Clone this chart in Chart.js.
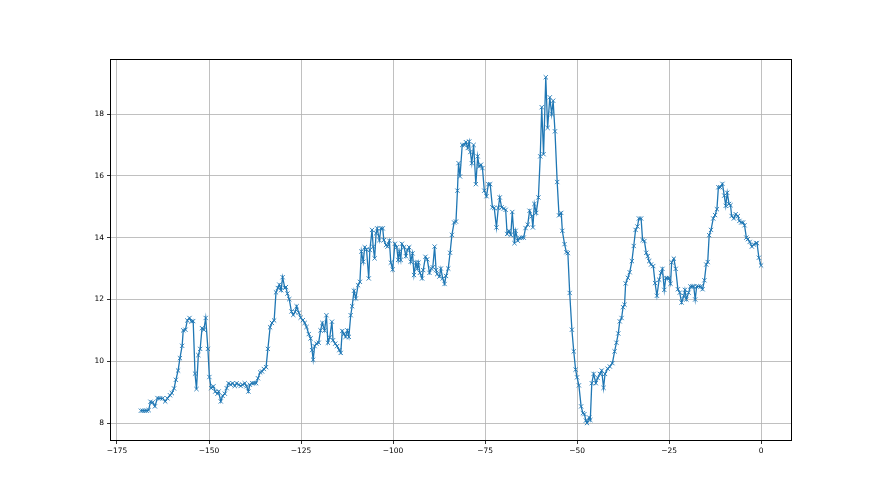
<!DOCTYPE html>
<html>
<head>
<meta charset="utf-8">
<script src="https://cdn.jsdelivr.net/npm/chart.js@4"></script>
<style>
html,body{margin:0;padding:0;background:#fff;}
canvas{display:block;}
</style>
</head>
<body>
<canvas id="c" width="880" height="495"></canvas>
<script>
const xValues = [
-168.5,-168.0,-167.4,-166.9,-166.4,-165.9,-165.3,-164.7,-164.0,-163.3,-162.6,-161.9,-161.3,-160.6,-160.1,-159.5,-159.0,-158.4,-157.9,-157.3,
-157.0,-156.4,-155.9,-155.3,-154.8,-154.3,-153.8,-153.4,-152.9,-152.4,-151.9,-151.4,-150.9,-150.3,-149.9,-149.4,-148.8,-148.3,-147.7,-147.4,
-146.8,-146.3,-145.7,-145.2,-144.7,-144.1,-143.6,-143.0,-142.5,-141.9,-141.4,-140.9,-140.3,-139.8,-139.3,-138.9,-138.3,-137.8,-137.2,-136.7,
-136.1,-135.6,-135.1,-134.5,-134.0,-133.4,-132.9,-132.3,-131.8,-131.3,-130.9,-130.4,-130.0,-129.4,-129.1,-128.7,-128.2,-127.6,-127.1,-126.6,
-126.2,-125.6,-125.1,-124.5,-124.0,-123.5,-122.9,-122.4,-122.0,-121.7,-121.3,-120.8,-120.2,-119.7,-119.2,-118.6,-118.1,-117.7,-117.2,-116.6,
-116.3,-115.7,-115.2,-114.6,-114.2,-113.8,-113.3,-112.9,-112.4,-112.0,-111.5,-111.1,-110.6,-110.1,-109.5,-109.0,-108.6,-108.1,-107.7,-107.2,
-106.6,-106.3,-105.7,-105.4,-105.0,-104.6,-104.3,-103.7,-103.3,-102.8,-102.5,-101.9,-101.5,-101.0,-100.6,-100.1,-99.5,-99.0,-98.6,-98.3,
-97.9,-97.6,-97.0,-96.5,-96.1,-95.6,-95.2,-94.7,-94.3,-93.8,-93.4,-93.1,-92.7,-92.1,-91.8,-91.2,-90.7,-90.1,-89.6,-89.2,
-88.7,-88.3,-88.0,-87.4,-87.0,-86.5,-86.0,-85.6,-85.0,-84.5,-84.0,-83.4,-82.9,-82.5,-82.2,-81.8,-81.2,-80.6,-80.2,-79.7,
-79.3,-79.0,-78.6,-78.1,-77.5,-77.0,-76.6,-76.1,-75.7,-75.2,-74.6,-74.1,-73.6,-73.0,-72.5,-71.9,-71.4,-71.0,-70.5,-69.9,
-69.4,-69.0,-68.5,-68.0,-67.6,-67.0,-66.7,-66.1,-65.6,-65.0,-64.5,-64.0,-63.4,-62.9,-62.3,-62.0,-61.6,-61.1,-60.5,-60.0,
-59.6,-59.1,-58.5,-58.0,-57.4,-56.9,-56.5,-56.0,-55.4,-54.9,-54.3,-54.0,-53.4,-52.9,-52.5,-52.0,-51.4,-50.9,-50.4,-50.0,
-49.5,-48.9,-48.4,-48.0,-47.6,-47.3,-46.7,-46.4,-46.0,-45.5,-44.9,-44.4,-43.8,-43.3,-42.8,-42.4,-41.7,-41.1,-40.4,-39.8,
-39.3,-38.8,-38.4,-37.9,-37.5,-37.1,-36.8,-36.2,-35.7,-35.1,-34.6,-34.1,-33.6,-33.2,-32.6,-32.2,-31.7,-31.2,-30.8,-30.4,
-29.9,-29.3,-28.8,-28.3,-27.7,-27.2,-26.8,-26.3,-25.9,-25.5,-25.0,-24.6,-24.3,-23.7,-23.2,-22.6,-22.1,-21.6,-21.0,-20.7,
-20.3,-19.7,-19.2,-18.7,-18.3,-17.9,-17.5,-17.0,-16.4,-15.9,-15.4,-14.9,-14.5,-14.1,-13.6,-13.0,-12.5,-12.0,-11.6,-11.1,
-10.5,-10.0,-9.6,-9.2,-8.7,-8.3,-8.0,-7.4,-6.9,-6.3,-5.9,-5.4,-4.9,-4.5,-4.0,-3.6,-3.1,-2.5,-2.0,-1.4,
-1.1,-0.6,0.0
];
const yValues = [
8.40,8.40,8.40,8.40,8.42,8.69,8.67,8.54,8.81,8.80,8.80,8.70,8.80,8.90,8.97,9.12,9.40,9.70,10.10,10.50,
11.00,11.02,11.32,11.40,11.29,11.30,9.60,9.10,10.20,10.40,11.07,11.02,11.40,10.40,9.49,9.13,9.19,9.02,8.95,9.02,
8.70,8.88,8.95,9.13,9.29,9.24,9.29,9.20,9.29,9.24,9.20,9.24,9.29,9.19,9.02,9.24,9.29,9.29,9.29,9.45,
9.64,9.67,9.75,9.81,10.40,11.10,11.24,11.32,12.23,12.37,12.48,12.30,12.72,12.37,12.40,12.19,12.01,11.61,11.50,11.60,
11.78,11.57,11.41,11.33,11.24,11.11,10.88,10.74,10.36,10.05,10.49,10.57,10.60,11.00,11.24,11.00,11.49,10.60,10.77,11.28,
10.68,10.57,10.49,10.36,10.27,10.98,10.88,10.79,11.00,10.79,11.49,11.78,12.28,12.03,12.46,12.57,13.55,13.22,13.69,13.62,
12.68,13.60,14.25,13.71,13.33,14.14,14.30,13.92,14.30,14.30,13.92,13.76,13.71,13.90,13.19,12.97,13.80,13.69,13.28,13.55,
13.28,13.80,13.69,13.40,13.60,13.69,13.22,13.49,12.79,13.19,13.00,13.19,12.86,12.68,12.95,13.38,13.30,12.86,13.00,13.04,
13.71,12.95,12.82,12.74,13.00,12.68,12.50,12.76,13.00,13.51,14.09,14.49,14.52,15.52,16.41,15.98,17.00,17.00,17.09,16.90,
17.11,16.77,16.41,17.00,15.73,16.63,16.30,16.36,16.25,15.52,15.34,15.73,15.73,14.98,14.96,14.33,14.96,15.30,14.98,14.94,
14.90,14.12,14.22,14.09,14.83,13.82,14.22,13.90,13.99,14.00,14.00,14.31,14.42,14.87,14.69,14.33,15.09,14.80,15.30,16.63,
18.22,16.70,19.19,17.55,18.54,18.00,18.43,17.44,15.80,14.72,14.80,14.22,13.79,13.53,13.50,12.21,11.02,10.32,9.73,9.48,
9.22,8.54,8.32,8.29,8.08,8.00,8.18,8.10,9.29,9.59,9.29,9.46,9.59,9.70,9.14,9.59,9.76,9.83,9.94,10.32,
10.60,10.90,11.29,11.40,11.75,11.83,12.52,12.70,12.88,13.24,13.73,14.25,14.36,14.62,14.62,13.92,13.89,13.51,13.40,13.24,
13.13,13.08,12.53,12.12,12.64,12.86,12.99,12.31,12.69,12.69,12.69,12.51,13.20,13.32,12.99,12.33,12.22,11.90,12.12,12.31,
12.00,12.22,12.42,12.42,12.42,12.00,12.42,12.42,12.42,12.33,12.62,13.13,13.21,14.08,14.25,14.62,14.73,14.92,15.63,15.63,
15.74,15.36,15.03,15.45,15.09,15.05,14.70,14.62,14.76,14.70,14.54,14.49,14.49,14.40,14.00,13.95,13.86,13.71,13.78,13.82,
13.82,13.35,13.10
];
const xTicks = [-175, -150, -125, -100, -75, -50, -25, 0];
const yTicks = [8, 10, 12, 14, 16, 18];

const points = xValues.map((x, i) => ({x: x, y: yValues[i]}));
const fmt = v => (v < 0 ? '\u2212' + Math.abs(v) : String(v));

const frame = {
  id: 'frame',
  afterDatasetsDraw(chart) {
    const a = chart.chartArea, ctx = chart.ctx;
    ctx.save();
    ctx.strokeStyle = '#000';
    ctx.lineWidth = 1;
    ctx.strokeRect(Math.round(a.left) + 0.5, Math.round(a.top) + 0.5,
                   Math.round(a.right - a.left) - 1, Math.round(a.bottom - a.top) - 1);
    ctx.restore();
  }
};

new Chart(document.getElementById('c'), {
  type: 'line',
  data: {
    datasets: [{
      data: points,
      borderColor: '#1f77b4',
      backgroundColor: 'rgba(0,0,0,0)',
      borderWidth: 1.3,
      pointStyle: 'crossRot',
      pointRadius: 3,
      pointBorderWidth: 0.9,
      pointBorderColor: '#1f77b4',
      pointHoverRadius: 3,
      tension: 0,
      fill: false
    }]
  },
  options: {
    responsive: false,
    animation: false,
    events: [],
    layout: { padding: { left: 0, top: 59, right: 88, bottom: 0 } },
    plugins: { legend: { display: false }, tooltip: { enabled: false } },
    scales: {
      x: {
        type: 'linear',
        min: -176.9,
        max: 8.4,
        afterBuildTicks: s => { s.ticks = xTicks.map(v => ({value: v})); },
        afterFit: s => { s.height = 54; },
        grid: { color: '#b0b0b0', lineWidth: 0.8, tickColor: '#000', tickLength: 3, drawTicks: true },
        border: { display: false },
        ticks: { color: '#000', font: { family: 'DejaVu Sans', size: 7.5 }, padding: 3, maxRotation: 0, callback: v => fmt(v) }
      },
      y: {
        type: 'linear',
        min: 7.42,
        max: 19.78,
        afterBuildTicks: s => { s.ticks = yTicks.map(v => ({value: v})); },
        afterFit: s => { s.width = 110; },
        grid: { color: '#b0b0b0', lineWidth: 0.8, tickColor: '#000', tickLength: 3, drawTicks: true },
        border: { display: false },
        ticks: { color: '#000', font: { family: 'DejaVu Sans', size: 7.5 }, padding: 3, callback: v => fmt(v) }
      }
    }
  },
  plugins: [frame]
});
</script>
</body>
</html>
